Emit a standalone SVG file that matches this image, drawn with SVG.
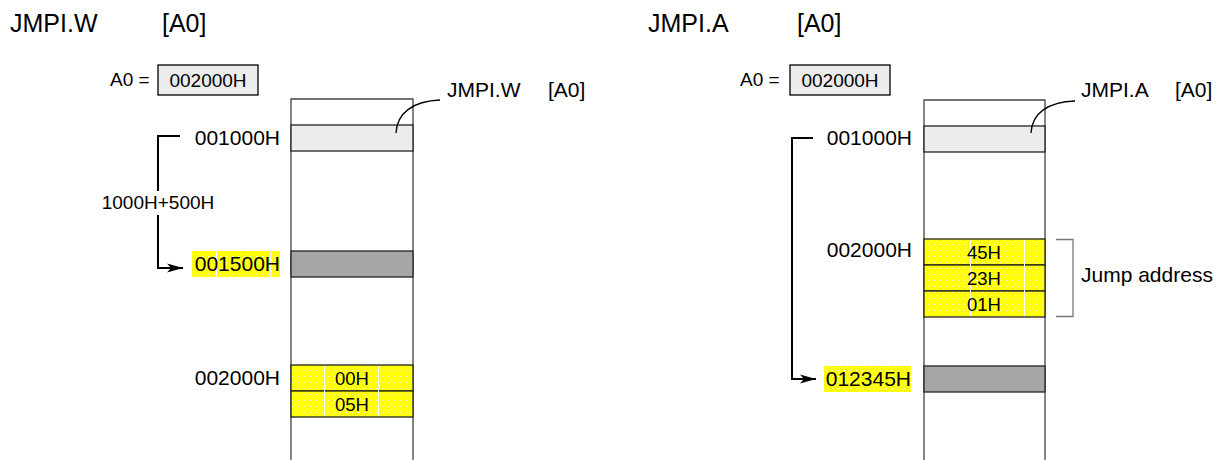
<svg xmlns="http://www.w3.org/2000/svg" width="1227" height="460" viewBox="0 0 1227 460">
<style>
text{font-family:"Liberation Sans",Arial,sans-serif;fill:#000}
.title{font-size:25px}
.lbl{font-size:21px}
.sm{font-size:19px}
.row{font-size:18.5px}
.mid{text-anchor:middle}
.end{text-anchor:end}
.col{fill:none;stroke:#444;stroke-width:1.3}
.cell{stroke:#222;stroke-width:1.3}
.light{fill:#ececec}
.dark{fill:#a6a6a6}
.yel{fill:url(#dots)}
.conn{fill:none;stroke:#000;stroke-width:2}
.thin{fill:none;stroke:#000;stroke-width:1.3}
.brk{fill:none;stroke:#777;stroke-width:1.3}
.vl{stroke:#fff;stroke-width:1}
</style>
<defs>
<pattern id="dots" width="6" height="6" patternUnits="userSpaceOnUse">
<rect width="6" height="6" fill="#ffff00"/>
<circle cx="1.5" cy="1.5" r="0.6" fill="#fff"/>
<circle cx="4.5" cy="4.5" r="0.6" fill="#fff"/>
</pattern>
<marker id="arr" markerWidth="17" markerHeight="10" refX="16" refY="5" orient="auto" markerUnits="userSpaceOnUse">
<path d="M0,0.5 L16,5 L0,9.5 L4,5 Z" fill="#000"/>
</marker>
</defs>

<g id="left-title">
<text class="title" x="10" y="32">JMPI.W</text>
<text class="title" x="162" y="32">[A0]</text>
</g>
<g id="left-a0">
<text class="sm" x="110" y="86">A0 =</text>
<rect x="158" y="65" width="100" height="30" fill="#ececec" stroke="#000" stroke-width="1.3"/>
<text class="sm mid" x="208" y="87">002000H</text>
</g>
<g id="left-memory">
<path class="col" d="M291,460 V99 H413 V460"/>
<rect class="cell light" x="291" y="125" width="122" height="26"/>
<rect class="cell dark" x="291" y="251" width="122" height="26"/>
<rect class="cell yel" x="291" y="365" width="122" height="26"/>
<rect class="cell yel" x="291" y="391" width="122" height="26"/>
<line class="vl" x1="324.5" y1="366" x2="324.5" y2="416"/>
<line class="vl" x1="378.5" y1="366" x2="378.5" y2="416"/>
<text class="row mid" x="352" y="385">00H</text>
<text class="row mid" x="352" y="411">05H</text>
</g>
<g id="left-addresses">
<text class="lbl end" x="280" y="145">001000H</text>
<rect class="yel" x="192" y="251" width="88" height="26"/>
<line class="vl" x1="216.5" y1="251" x2="216.5" y2="277"/>
<line class="vl" x1="270.5" y1="251" x2="270.5" y2="277"/>
<text class="lbl end" x="280" y="271">001500H</text>
<text class="lbl end" x="280" y="385">002000H</text>
<text class="sm mid" x="158" y="209">1000H+500H</text>
</g>
<g id="left-instr-label">
<text class="lbl" x="447" y="97">JMPI.W</text>
<text class="lbl" x="548" y="97">[A0]</text>
</g>

<g id="right-title">
<text class="title" x="648" y="32">JMPI.A</text>
<text class="title" x="797" y="32">[A0]</text>
</g>
<g id="right-a0">
<text class="sm" x="740" y="86">A0 =</text>
<rect x="790" y="65" width="100" height="30" fill="#ececec" stroke="#000" stroke-width="1.3"/>
<text class="sm mid" x="840" y="87">002000H</text>
</g>
<g id="right-memory">
<path class="col" d="M924,460 V100 H1045 V460"/>
<rect class="cell light" x="924" y="126" width="121" height="26"/>
<rect class="cell yel" x="924" y="239" width="121" height="26"/>
<rect class="cell yel" x="924" y="265" width="121" height="26"/>
<rect class="cell yel" x="924" y="291" width="121" height="26"/>
<line class="vl" x1="970.5" y1="240" x2="970.5" y2="316"/>
<line class="vl" x1="1024.5" y1="240" x2="1024.5" y2="316"/>
<rect class="cell dark" x="924" y="366" width="121" height="26"/>
<text class="row mid" x="984" y="259">45H</text>
<text class="row mid" x="984" y="285">23H</text>
<text class="row mid" x="984" y="311">01H</text>
</g>
<g id="right-addresses">
<text class="lbl end" x="912" y="145">001000H</text>
<text class="lbl end" x="912" y="257">002000H</text>
<rect class="yel" x="824" y="366" width="87" height="26"/>
<text class="lbl end" x="911" y="386">012345H</text>
</g>
<g id="right-instr-label">
<text class="lbl" x="1081" y="97">JMPI.A</text>
<text class="lbl" x="1175" y="97">[A0]</text>
</g>
<g id="jump-address">
<path class="brk" d="M1056,239.5 H1073 V316.5 H1056"/>
<text class="lbl" x="1081" y="282">Jump address</text>
</g>

<g id="connectors">
<path class="conn" d="M180,136 H158 V191"/>
<path class="conn" d="M158,215 V268 H183" marker-end="url(#arr)"/>
<path class="thin" d="M396,133 C397,113 413,101 440,100"/>
<path class="conn" d="M813,138 H792 V379 H816" marker-end="url(#arr)"/>
<path class="thin" d="M1031,133 C1032,113 1048,102 1075,101"/>
</g>
</svg>
